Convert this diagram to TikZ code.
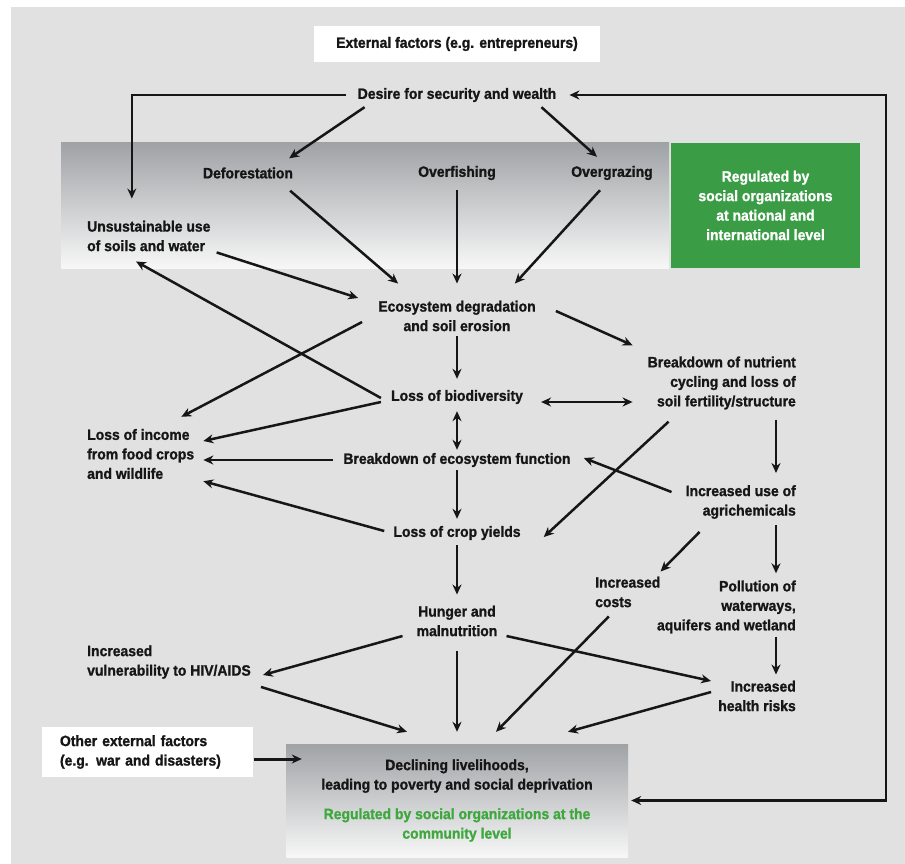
\documentclass[tikz,border=0pt]{standalone}
\usepackage{fontspec}
\setmainfont{Liberation Sans}[FakeStretch=0.93,BoldFeatures={FakeStretch=0.93,FakeBold=1.2}]
\usetikzlibrary{arrows.meta,positioning,shapes}

\definecolor{bggray}{RGB}{225,225,225}
\definecolor{ink}{RGB}{22,22,22}
\definecolor{natgreen}{RGB}{58,156,68}
\definecolor{comgreen}{RGB}{62,168,62}
\definecolor{bandtop}{RGB}{160,163,166}
\definecolor{bandbot}{RGB}{247,247,247}

\tikzset{
  txt/.style={font=\fontsize{15}{19.5}\selectfont\bfseries, text=ink, inner sep=0pt},
  mid/.style={txt, align=center},
  lft/.style={txt, align=left, anchor=west},
  rgt/.style={txt, align=right, anchor=east},
  whitebox/.style={txt, fill=white, align=left},
  flow/.style={->, draw=ink, line width=2.5pt}
}

\begin{document}
\begin{tikzpicture}[x=1pt, y=-1pt, >={Stealth[length=10pt,width=9pt]}]
    \useasboundingbox (0,0) rectangle (905,864);
    \fill[white] (0,0) rectangle (905,864);
    \fill[bggray] (11,7) rectangle (905,864);
    \shade[top color=bandtop, bottom color=bandbot] (61,143) rectangle (669,268);

    \node[whitebox, align=center, minimum width=286pt, minimum height=36pt] (ext) at (457,44) {External factors (e.g. entrepreneurs)};
    \node[mid] (desire) at (457,95) {Desire for security and wealth};
    \node[mid] (defor) at (248,173) {Deforestation};
    \node[mid] (overf) at (457,173) {Overfishing};
    \node[mid] (overg) at (612,173) {Overgrazing};
    \node[mid, fill=natgreen, text=white, minimum width=189pt, minimum height=125pt] (reg) at (765.5,205.5) {Regulated by\\social organizations\\at national and\\international level};
    \node[lft] (unsus) at (87,236) {Unsustainable use\\of soils and water};
    \node[mid] (eco) at (457,316) {Ecosystem degradation\\and soil erosion};
    \node[rgt] (nutr) at (796,383) {Breakdown of nutrient\\cycling and loss of\\soil fertility/structure};
    \node[mid] (biod) at (457,397) {Loss of biodiversity};
    \node[lft] (income) at (87,454) {Loss of income\\from food crops\\and wildlife};
    \node[mid] (efun) at (457,460) {Breakdown of ecosystem function};
    \node[mid] (crop) at (457,533) {Loss of crop yields};
    \node[rgt] (agri) at (796,502) {Increased use of\\agrichemicals};
    \node[lft] (costs) at (595,592) {Increased\\costs};
    \node[rgt] (poll) at (796,607) {Pollution of\\waterways,\\aquifers and wetland};
    \node[mid] (hunger) at (457,621) {Hunger and\\malnutrition};
    \node[lft] (hiv) at (87,662) {Increased\\vulnerability to HIV/AIDS};
    \node[rgt] (health) at (796,696) {Increased\\health risks};
    \node[whitebox, text width=175pt, inner xsep=18pt, minimum height=50pt] (other) at (147.5,752) {Other external factors\\(e.g. war and disasters)};
    \node[mid, top color=bandtop, bottom color=bandbot, minimum width=342pt, minimum height=113pt] (decl) at (457,800.5) {Declining livelihoods,\\leading to poverty and social deprivation\\[10pt]\color{comgreen}Regulated by social organizations at the\\\color{comgreen}community level};
    \coordinate (loop) at (886,800);

    \draw[flow, shorten <=12pt, shorten >=22pt] (desire.west) -| ([xshift=-17pt]unsus.north);
    \draw[flow] ([shift={(7,5)}]desire.south west) -- ([shift={(-4,-9)}]defor.north east);
    \draw[flow] ([shift={(-15,5)}]desire.south east) -- ([shift={(-15,-9)}]overg.north);
    \draw[flow, <->, shorten <=13pt, shorten >=3pt] (desire.east) -| (loop) |- (decl.east);
    \draw[flow] ([shift={(-3,12)}]defor.south east) -- ([shift={(20,-17)}]eco.north west);
    \draw[flow, shorten <=10pt, shorten >=17pt] (overf.south) -- (eco.north);
    \draw[flow] ([shift={(-12,10)}]overg.south) -- ([shift={(-21,-17)}]eco.north east);
    \draw[flow] ([shift={(6,1)}]unsus.south east) -- ([shift={(-20,-18)}]eco.west);
    \draw[flow] ([shift={(20,-5)}]eco.east) -- ([shift={(-15,-11)}]nutr.north west);
    \draw[flow, shorten <=5pt, shorten >=11pt] (eco.south) -- (biod.north);
    \draw[flow] ([shift={(-16,6)}]eco.west) -- ([shift={(-13,-12)}]income.north east);
    \draw[flow] ([shift={(-10,1)}]biod.west) -- ([shift={(49,10)}]unsus.south west);
    \draw[flow] ([shift={(-10,5)}]biod.west) -- ([shift={(9,-13)}]income.east);
    \draw[flow, <->] ([shift={(18,5)}]biod.east) -- ([shift={(-15,19)}]nutr.west);
    \draw[flow, <->, shorten <=7pt, shorten >=3pt] (biod.south) -- (efun.north);
    \draw[flow] ([shift={(-10,0)}]efun.west) -- ([shift={(9,6)}]income.east);
    \draw[flow] ([shift={(-9,-2)}]crop.west) -- ([shift={(9,2)}]income.south east);
    \draw[flow, shorten <=3pt, shorten >=7pt] (efun.south) -- (crop.north);
    \draw[flow] ([shift={(21,12)}]nutr.south west) -- ([shift={(23,4)}]crop.east);
    \draw[flow] ([shift={(-20,10)}]nutr.south east) -- ([shift={(-20,-12)}]agri.north east);
    \draw[flow] ([shift={(-14,-10)}]agri.west) -- ([shift={(13,-2)}]efun.east);
    \draw[flow] ([shift={(14,13)}]agri.south west) -- ([shift={(0,-5)}]costs.north east);
    \draw[flow] ([shift={(-20,6)}]agri.south east) -- ([shift={(-20,-7)}]poll.north east);
    \draw[flow, shorten <=5pt, shorten >=11pt] (crop.south) -- (hunger.north);
    \draw[flow] ([shift={(-14,15)}]hunger.west) -- ([shift={(12,13)}]hiv.east);
    \draw[flow] ([shift={(9,15)}]hunger.east) -- ([shift={(-7,-15)}]health.west);
    \draw[flow] ([shift={(-20,3)}]poll.south east) -- ([shift={(-20,-6)}]health.north east);
    \draw[flow] ([shift={(10,8)}]hiv.south east) -- ([shift={(-50,-12)}]decl.north);
    \draw[flow, shorten <=15pt, shorten >=12pt] (hunger.south) -- (decl.north);
    \draw[flow] ([shift={(-19,9)}]costs.south) -- ([shift={(39,-12)}]decl.north);
    \draw[flow] ([shift={(-7,-4)}]health.west) -- ([shift={(111,-12)}]decl.north);
    \draw[flow, line width=3pt] ([shift={(1,7)}]other.east) -- ([shift={(16,-41.5)}]decl.west);
\end{tikzpicture}
\end{document}
